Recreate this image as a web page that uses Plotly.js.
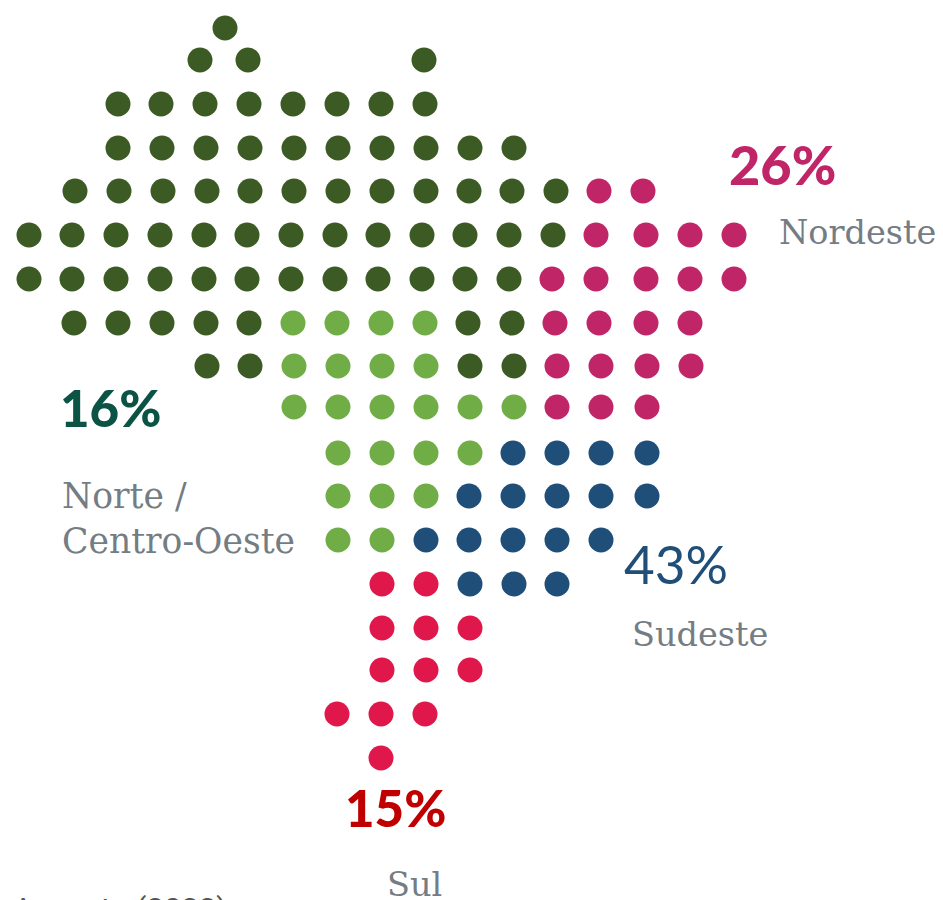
<!DOCTYPE html>
<html><head><meta charset="utf-8">
<script src="https://cdn.plot.ly/plotly-3.0.1.min.js"></script>
<style>html,body{margin:0;padding:0;background:#fff;overflow:hidden}#c{width:943px;height:900px}</style>
</head><body><div id="c"></div>
<script>
// Each region: rows of [row y, [dot x...]]
const norteRows = [
 [28,[225]],
 [60,[200,248,424]],
 [104,[118,161,205,249,293,337,381,425]],
 [148,[118,162,206,250,294,338,382,426,470,514]],
 [191,[75,119,163,207,250,294,338,382,426,469,512,556]],
 [235,[29,72,116,160,204,247,291,335,378,422,465,509,553]],
 [279,[29,72,116,160,204,247,291,335,378,422,465,509]],
 [323,[74,118,162,206,249,468,512]],
 [366,[207,250,470,514]]
];
const nordesteRows = [
 [191,[599,643]],
 [235,[596,646,690,734]],
 [279,[552,596,646,690,734]],
 [323,[555,599,646,690]],
 [366,[557,601,647,691]],
 [407,[557,601,647]]
];
const centroRows = [
 [323,[293,337,381,425]],
 [366,[294,338,382,426]],
 [407,[294,338,382,426,470,514]],
 [453,[338,382,426,470]],
 [496,[338,382,426]],
 [540,[338,382]]
];
const sudesteRows = [
 [453,[513,557,601,647]],
 [496,[469,513,557,601,647]],
 [540,[426,469,513,557,601]],
 [584,[470,514,557]]
];
const sulRows = [
 [584,[382,426]],
 [628,[382,426,470]],
 [670,[382,426,470]],
 [714,[337,381,425]],
 [758,[381]]
];
const regionColors = ['#3b5a24','#c02567','#70ad47','#1f4e79','#e0174a'];
const regionNames = ['Norte','Nordeste','Centro-Oeste','Sudeste','Sul'];
const allRows = [norteRows,nordesteRows,centroRows,sudesteRows,sulRows];

const pctTexts = ['26%','16%','43%','15%'];
const pctX = [729,60,624,345];
const pctY = [164,407,563,807];
const pctSizes = [54,51,53,51];
const pctColors = ['#c02567','#0b5345','#1f4e79','#c00000'];
const pctWeights = [900,900,400,900];
const nameTexts = ['Nordeste','Norte /<br>Centro-Oeste','Sudeste','Sul'];
const nameX = [779,62,632,387];
const nameY = [232,518,634,884];
const nameSizes = [33.5,34.6,33.5,33.5];

const traces = allRows.map((rows,i)=>{
  const x=[],y=[];
  rows.forEach(r=>r[1].forEach(v=>{x.push(v);y.push(r[0]);}));
  return {type:'scatter',mode:'markers',name:regionNames[i],x,y,
    marker:{size:25,color:regionColors[i],line:{width:0}},hoverinfo:'name'};
});
const annotations=[];
pctTexts.forEach((t,i)=>annotations.push({xref:'x',yref:'y',x:pctX[i],y:pctY[i],text:t,showarrow:false,
  xanchor:'left',yanchor:'middle',align:'left',xshift:-2,
  font:{family:'Lato, sans-serif',size:pctSizes[i],color:pctColors[i],weight:pctWeights[i]}}));
nameTexts.forEach((t,i)=>annotations.push({xref:'x',yref:'y',x:nameX[i],y:nameY[i],text:t,showarrow:false,
  xanchor:'left',yanchor:'middle',align:'left',xshift:-2,
  font:{family:'DejaVu Serif, serif',size:nameSizes[i],color:'#747c84'}}));
annotations.push({xref:'x',yref:'y',x:13,y:889,text:'Augusto (2022)',showarrow:false,xanchor:'left',yanchor:'top',
  xshift:-2,font:{family:'Roboto, sans-serif',size:31,color:'#555'}});

Plotly.newPlot('c',traces,{
  width:943,height:900,showlegend:false,
  margin:{l:0,r:0,t:0,b:0},paper_bgcolor:'#fff',plot_bgcolor:'#fff',
  xaxis:{range:[0,943],visible:false,fixedrange:true},
  yaxis:{range:[900,0],visible:false,fixedrange:true},
  annotations
},{displayModeBar:false,staticPlot:true});
</script></body></html>
